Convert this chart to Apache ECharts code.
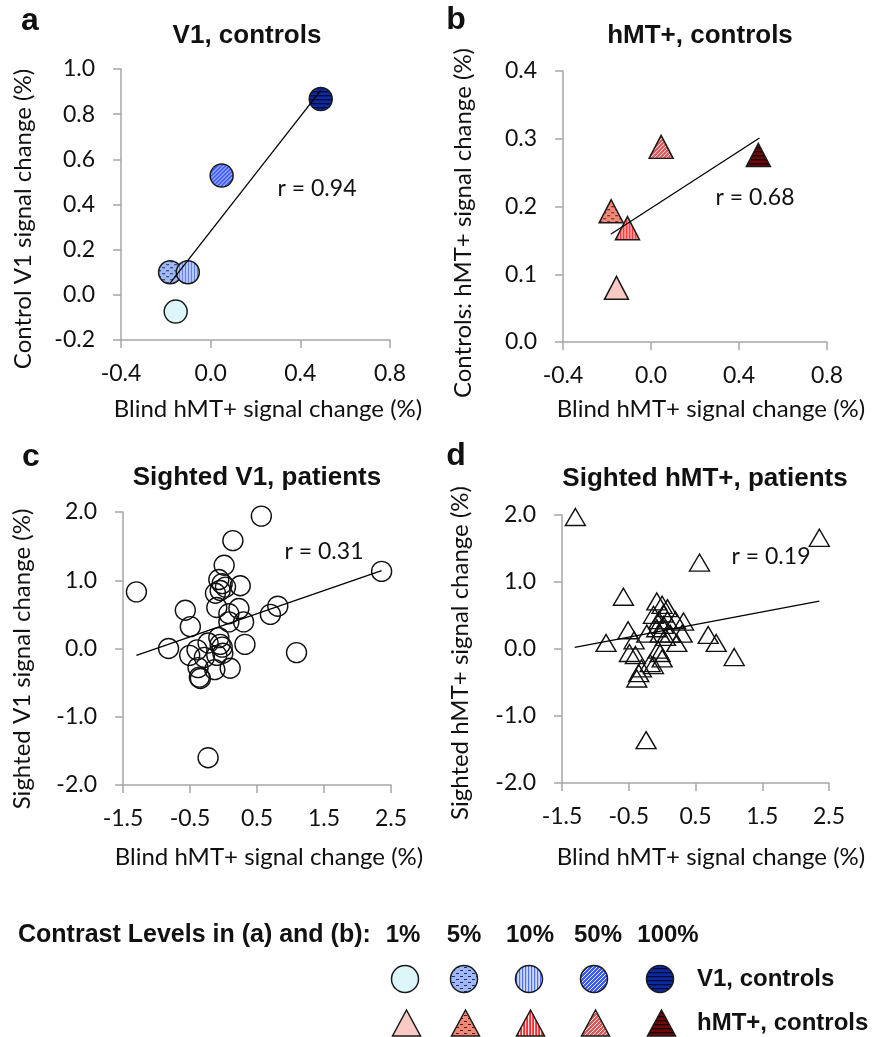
<!DOCTYPE html>
<html>
<head>
<meta charset="utf-8">
<title>Blind vs sighted signal change</title>
<script src="https://cdn.jsdelivr.net/npm/echarts@6/dist/echarts.min.js"></script>
<style>
  html, body { margin: 0; padding: 0; background: #fff; }
  #main { width: 874px; height: 1037px; }
</style>
</head>
<body>
<div id="main"></div>
<script>
// contrast levels used in panels a and b
var contrastLevels = ["1%", "5%", "10%", "50%", "100%"]

// a: V1, controls
var v1Blind = [-0.156, -0.181, -0.102, 0.049, 0.491]
var v1Control = [-0.074, 0.10, 0.10, 0.528, 0.867]
var v1Trend = [[-0.181, 0.052], [0.491, 0.905]]

// b: hMT+, controls
var mtBlind = [-0.157, -0.181, -0.107, 0.046, 0.488]
var mtControl = [0.080, 0.193, 0.168, 0.288, 0.276]
var mtTrend = [[-0.183, 0.159], [0.493, 0.301]]

// c: sighted V1, patients
var patBlindV1 = [-1.30, -0.82, -0.57, -0.495, -0.505, -0.395, -0.38, -0.36, -0.345, -0.285,
  -0.23, -0.13, -0.10, -0.12, -0.07, -0.05, -0.02, 0.03, 0.01, -0.07,
  -0.05, -0.02, -0.01, -0.10, 0.08, 0.08, 0.10, 0.14, 0.23, 0.25,
  0.30, 0.32, 0.565, 0.70, 0.81, 1.09, 2.36, -0.23]
var patSightedV1 = [0.83, 0.0, 0.56, 0.32, -0.10, -0.02, -0.28, -0.42, -0.44, -0.13,
  0.08, -0.31, 0.60, 0.81, 1.01, 0.85, 0.95, 0.90, 1.22, 0.16,
  0.06, 0.02, -0.07, -0.10, 0.51, 0.39, -0.29, 1.58, 0.585, 0.92,
  0.39, 0.06, 1.94, 0.50, 0.62, -0.06, 1.13, -1.60]
var patV1Trend = [[-1.30, -0.10], [2.36, 1.14]]

// d: sighted hMT+, patients
var patBlindMT = [-1.30, 2.355, 0.56, -0.58, -0.51, -0.84, -0.42, -0.49, -0.40, -0.38,
  -0.35, -0.31, -0.24, -0.23, -0.18, -0.13, -0.08, 0.0, -0.13, -0.05,
  -0.08, -0.03, 0.02, 0.08, 0.08, 0.12, 0.20, 0.22, 0.30, 0.32,
  -0.03, 0.0, -0.06, 0.69, 0.81, 1.08, 0.05, 0.02]
var patSightedMT = [1.97, 1.66, 1.29, 0.78, 0.28, 0.09, 0.13, -0.06, -0.09, -0.44,
  -0.36, -0.29, -1.36, 0.23, -0.21, -0.24, 0.71, 0.66, 0.51, 0.43,
  0.31, 0.23, 0.36, 0.61, 0.43, 0.23, 0.43, 0.09, 0.23, 0.41,
  -0.06, -0.14, -0.01, 0.21, 0.09, -0.12, 0.18, 0.53]
var patMTTrend = [[-1.31, 0.025], [2.355, 0.715]]

var rLabels = ["r = 0.94", "r = 0.68", "r = 0.31", "r = 0.19"]

// hatch styles per contrast level
var v1Hatch = [
  ["#dcf6fa"],
  ["#a2b8f2", "#1c2c78", "dash"],
  ["#cdd9fd", "#4f72ee", "vert"],
  ["#3b5bff", "#e6ecff", "diag"],
  ["#0c2b9e", "#020a3c", "horiz"]
]
var mtHatch = [
  ["#fccac5"],
  ["#ef8878", "#5a1a10", "dash"],
  ["#ff2b2b", "#ffe2e2", "vert"],
  ["#d95a5a", "#ffe4e4", "diag"],
  ["#6e0a0a", "#1a0000", "horiz"]
]

// hatched fill drawn on a small canvas; sx/sy undo the symbol scaling
function makePattern(h, sx, sy) {
  var bg = h[0], fg = h[1], kind = h[2]
  if (!kind) return bg
  var c = document.createElement("canvas")
  var w = 4, ht = 4
  if (kind === "dash") { w = 8; ht = 6 }
  if (kind === "vert") { w = 3; ht = 3 }
  c.width = w
  c.height = ht
  var g = c.getContext("2d")
  g.fillStyle = bg
  g.fillRect(0, 0, w, ht)
  g.fillStyle = fg
  g.strokeStyle = fg
  if (kind === "dash") {
    g.fillRect(0, 1, 3, 1)
    g.fillRect(4, 4, 3, 1)
  } else if (kind === "vert") {
    g.fillRect(0, 0, 1.2, ht)
  } else if (kind === "horiz") {
    g.fillRect(0, 0, w, 1.3)
  } else if (kind === "diag") {
    g.lineWidth = 1
    g.beginPath()
    g.moveTo(-1, ht + 1); g.lineTo(w + 1, -1)
    g.moveTo(-1, 1); g.lineTo(1, -1)
    g.moveTo(w - 1, ht + 1); g.lineTo(w + 1, ht - 1)
    g.stroke()
  }
  return { image: c, repeat: "repeat", scaleX: sx || 1, scaleY: sy || 1 }
}

var axisGray = "#a6a6a6"
var textColor = "#111"

function fmt(v) {
  if (Math.abs(v) < 1e-9) return "0.0"
  return v.toFixed(1)
}

function makeAxis(idx, min, max, interval, isX) {
  return {
    gridIndex: idx,
    type: "value",
    min: min,
    max: max,
    interval: interval,
    splitLine: { show: false },
    axisLine: { show: true, onZero: false, lineStyle: { color: axisGray, width: 1.5 } },
    axisTick: { show: true, inside: false, length: 8, lineStyle: { color: axisGray, width: 1.5 } },
    axisLabel: {
      show: true,
      fontFamily: "Lato",
      fontSize: 23,
      color: textColor,
      margin: isX ? 22 : 26,
      formatter: fmt
    }
  }
}

function filledScatter(idx, xs, ys, hatch, symbol, size) {
  var sw = Array.isArray(size) ? size[0] : size
  var sh = Array.isArray(size) ? size[1] : size
  return {
    type: "scatter",
    xAxisIndex: idx,
    yAxisIndex: idx,
    symbol: symbol,
    symbolSize: size,
    z: 2,
    data: xs.map(function (x, i) {
      return { value: [x, ys[i]], itemStyle: { color: makePattern(hatch[i], 2 / sw, 2 / sh) } }
    }),
    itemStyle: { borderColor: "#1a1a1a", borderWidth: 1.5, opacity: 1 },
    emphasis: { disabled: true }
  }
}

function hollowScatter(idx, xs, ys, symbol, size) {
  return {
    type: "scatter",
    xAxisIndex: idx,
    yAxisIndex: idx,
    symbol: symbol,
    symbolSize: size,
    z: 2,
    data: xs.map(function (x, i) { return [x, ys[i]] }),
    itemStyle: { color: "rgba(0,0,0,0)", borderColor: "#111", borderWidth: 1.4, opacity: 1 },
    emphasis: { disabled: true }
  }
}

function trendLine(idx, pts) {
  return {
    type: "line",
    xAxisIndex: idx,
    yAxisIndex: idx,
    data: pts,
    showSymbol: false,
    symbol: "none",
    z: 3,
    lineStyle: { color: "#000", width: 1.3 },
    emphasis: { disabled: true }
  }
}

function label(text, x, y, opts) {
  opts = opts || {}
  var size = opts.size || 24
  var font = (opts.bold ? "bold " : "") + size + "px " + (opts.family || "Lato")
  return {
    type: "text",
    x: x,
    y: y,
    rotation: opts.rotation || 0,
    silent: true,
    style: {
      text: text,
      font: font,
      fill: textColor,
      align: opts.align || "center",
      verticalAlign: "middle",
      textAlign: opts.align || "center",
      textVerticalAlign: "middle"
    }
  }
}

var arial = "Liberation Sans"
var graphics = [
  // panel letters
  label("a", 30, 21, { bold: true, size: 32, family: arial }),
  label("b", 456, 20, { bold: true, size: 32, family: arial }),
  label("c", 31, 457, { bold: true, size: 32, family: arial }),
  label("d", 456, 456, { bold: true, size: 32, family: arial }),
  // titles
  label("V1, controls", 247, 36, { bold: true, size: 26, family: arial }),
  label("hMT+, controls", 700, 36, { bold: true, size: 26, family: arial }),
  label("Sighted V1, patients", 257, 478, { bold: true, size: 26, family: arial }),
  label("Sighted hMT+, patients", 705, 479, { bold: true, size: 26, family: arial }),
  // axis names
  label("Blind hMT+ signal change (%)", 268, 409),
  label("Blind hMT+ signal change (%)", 711, 409),
  label("Blind hMT+ signal change (%)", 269, 857),
  label("Blind hMT+ signal change (%)", 711, 857),
  label("Control V1 signal change (%)", 23, 219, { rotation: Math.PI / 2 }),
  label("Controls: hMT+ signal change (%)", 463, 223, { rotation: Math.PI / 2 }),
  label("Sighted V1 signal change (%)", 22, 659, { rotation: Math.PI / 2 }),
  label("Sighted hMT+ signal change (%)", 460, 653, { rotation: Math.PI / 2 }),
  // correlation values
  label(rLabels[0], 317, 189, { size: 23 }),
  label(rLabels[1], 755, 198, { size: 23 }),
  label(rLabels[2], 324, 552, { size: 23 }),
  label(rLabels[3], 771, 557, { size: 23 }),
  // legend
  label("Contrast Levels in (a) and (b):", 18, 935, { bold: true, size: 25, family: arial, align: "left" }),
  label("V1, controls", 697, 979, { bold: true, size: 24, family: arial, align: "left" }),
  label("hMT+, controls", 697, 1023, { bold: true, size: 24, family: arial, align: "left" })
]

var legendX = [405, 464, 529, 594, 660]
var levelX = [403, 464, 530, 598, 668]
contrastLevels.forEach(function (lv, i) {
  graphics.push(label(lv, levelX[i], 935, { bold: true, size: 24, family: arial }))
  graphics.push({
    type: "circle",
    silent: true,
    shape: { cx: legendX[i], cy: 979, r: 13.5 },
    style: { fill: makePattern(v1Hatch[i]), stroke: "#1a1a1a", lineWidth: 1.5 }
  })
  var tx = legendX[i] + 1.5
  graphics.push({
    type: "polygon",
    silent: true,
    shape: { points: [[tx, 1010], [tx - 14, 1036], [tx + 14, 1036]] },
    style: { fill: makePattern(mtHatch[i]), stroke: "#1a1a1a", lineWidth: 1.5 }
  })
})

var option = {
  backgroundColor: "#fff",
  animation: false,
  grid: [
    { left: 121, top: 69, width: 269, height: 271 },
    { left: 563, top: 71, width: 264, height: 271 },
    { left: 123, top: 512, width: 268, height: 273 },
    { left: 562, top: 515, width: 267, height: 268 }
  ],
  xAxis: [
    makeAxis(0, -0.4, 0.8, 0.4, true),
    makeAxis(1, -0.4, 0.8, 0.4, true),
    makeAxis(2, -1.5, 2.5, 1, true),
    makeAxis(3, -1.5, 2.5, 1, true)
  ],
  yAxis: [
    makeAxis(0, -0.2, 1.0, 0.2, false),
    makeAxis(1, 0, 0.4, 0.1, false),
    makeAxis(2, -2, 2, 1, false),
    makeAxis(3, -2, 2, 1, false)
  ],
  series: [
    filledScatter(0, v1Blind, v1Control, v1Hatch, "circle", 23),
    trendLine(0, v1Trend),
    filledScatter(1, mtBlind, mtControl, mtHatch, "triangle", [24, 23]),
    trendLine(1, mtTrend),
    hollowScatter(2, patBlindV1, patSightedV1, "circle", 20),
    trendLine(2, patV1Trend),
    hollowScatter(3, patBlindMT, patSightedMT, "triangle", [20, 17]),
    trendLine(3, patMTTrend)
  ],
  graphic: graphics
}

var myChart = echarts.init(document.getElementById("main"), null, { renderer: "canvas" })
myChart.setOption(option)
</script>
</body>
</html>
